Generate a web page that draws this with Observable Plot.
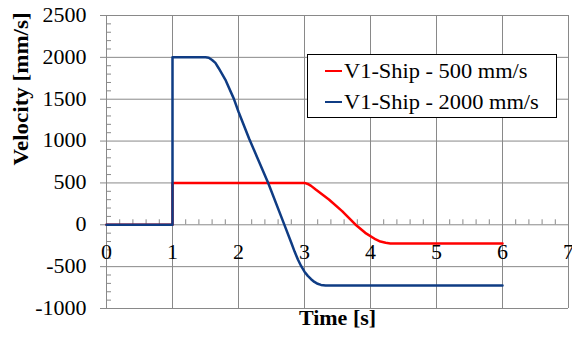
<!DOCTYPE html>
<html><head><meta charset="utf-8">
<script src="https://cdn.jsdelivr.net/npm/d3@7"></script>
<script src="https://cdn.jsdelivr.net/npm/@observablehq/plot@0.6"></script>
<style>
body{margin:0;background:#fff;}
#wrap{position:relative;width:572px;height:340px;font-family:'Liberation Serif', serif;}
#legend{position:absolute;left:307px;top:54px;width:250px;height:64px;border:1px solid #000;background:#fff;box-sizing:border-box;font-family:'Liberation Serif', serif;font-size:20px;color:#000;}
.row{position:absolute;left:17px;height:24px;display:flex;align-items:center;white-space:nowrap;}
.sw{width:17px;height:2.5px;margin-right:2px;flex:none;}
.tx{display:inline-block;transform:scaleX(1.12);transform-origin:0 50%;font-family:'Liberation Serif', serif;}
</style></head>
<body><div id="wrap"></div>
<script>
// Series: V1-Ship - 500 mm/s
const timeA = [0, 1, 1, 3, 3.05, 3.1, 3.17, 3.37, 3.57, 3.77, 3.92, 4.08, 4.15, 4.23, 4.3, 4.4, 6];
const velA  = [0, 0, 500, 500, 488, 465, 421, 302, 163, 4, -96, -175, -200, -215, -223, -225, -225];
// Series: V1-Ship - 2000 mm/s
const timeB = [0, 1, 1, 1.5, 1.55, 1.6, 1.65, 1.7, 1.8, 1.93, 2.0, 2.16, 2.3, 2.45, 2.7, 2.8, 2.85, 2.9, 2.95, 3.0, 3.05, 3.1, 3.15, 3.2, 3.25, 3.32, 6];
const velB  = [0, 0, 2000, 2000, 1995, 1968, 1934, 1870, 1735, 1504, 1350, 1030, 774, 500, -10, -215, -320, -415, -495, -560, -610, -650, -683, -705, -718, -725, -725];
const seriesNames = ["V1-Ship - 500 mm/s", "V1-Ship - 2000 mm/s"];
const seriesColors = ["#ff0000", "#0f3c84"];
const xTicks = [0, 1, 2, 3, 4, 5, 6, 7];
const yTicks = [-1000, -500, 0, 500, 1000, 1500, 2000, 2500];

const dataA = timeA.map((t, i) => ({t, v: velA[i]}));
const dataB = timeB.map((t, i) => ({t, v: velB[i]}));
const xMinor = d3.range(0, 7.0001, 0.2).filter(d => Math.abs(d - Math.round(d)) > 1e-6);
const yMinor = d3.range(-1000, 2501, 100).filter(d => d % 500 !== 0);
const grid = "#898989";
const FONT = "Liberation Serif, serif";

const chart = Plot.plot({
  width: 572, height: 340,
  marginLeft: 106, marginRight: 4, marginTop: 15, marginBottom: 32,
  x: {domain: [0, 7], axis: null},
  y: {domain: [-1000, 2500], axis: null},
  style: {fontFamily: FONT, fontSize: "20px", background: "#fff", color: "#000"},
  marks: [
    Plot.ruleX(xTicks.slice(1), {stroke: grid, strokeWidth: 1}),
    Plot.ruleY(yTicks, {x1: 0, x2: 7, insetLeft: -6, stroke: grid, strokeWidth: 1}),
    Plot.ruleX([0], {stroke: grid, strokeWidth: 1}),
    Plot.ruleY(yMinor, {x1: 0, x2: 0, insetRight: -5, stroke: grid, strokeWidth: 1}),
    Plot.ruleX(xMinor, {y1: 0, y2: 0, insetTop: -5, stroke: grid, strokeWidth: 1}),
    Plot.line(dataA, {x: "t", y: "v", stroke: seriesColors[0], strokeWidth: 2.5}),
    Plot.line(dataB, {x: "t", y: "v", stroke: seriesColors[1], strokeWidth: 2.5}),
    Plot.text(yTicks, {x: 0, y: d => d, text: d => String(d), textAnchor: "end", dx: -20, fontSize: 20, fontFamily: FONT, className: "stretch"}),
    Plot.text(xTicks, {x: d => d, y: 0, text: d => String(d), dy: 27.5, fontSize: 20, fontFamily: FONT, className: "stretch"}),
    Plot.text(["Velocity [mm/s]"], {frameAnchor: "left", dx: -85, dy: 3.5, rotate: -90, fontWeight: "bold", fontSize: 20, fontFamily: FONT, className: "stretch2"}),
    Plot.text(["Time [s]"], {frameAnchor: "bottom", dy: 16, fontWeight: "bold", fontSize: 20, fontFamily: FONT, className: "stretch"})
  ]
});
const wrap = document.getElementById("wrap");
wrap.appendChild(chart);

// widen glyphs slightly to match the reference's text proportions
function stretch(sel, k) {
  chart.querySelectorAll(sel + " text").forEach(t => {
    const len = t.getComputedTextLength();
    if (len > 0) {
      t.setAttribute("textLength", (len * k).toFixed(2));
      t.setAttribute("lengthAdjust", "spacingAndGlyphs");
    }
  });
}
stretch(".stretch", 1.1);
stretch(".stretch2", 1.15);

const legend = document.createElement("div");
legend.id = "legend";
seriesNames.forEach((name, i) => {
  const row = document.createElement("div");
  row.className = "row";
  row.style.top = (i === 0 ? 4 : 35) + "px";
  const sw = document.createElement("span");
  sw.className = "sw";
  sw.style.background = seriesColors[i];
  const tx = document.createElement("span");
  tx.className = "tx";
  tx.textContent = name;
  row.appendChild(sw); row.appendChild(tx);
  legend.appendChild(row);
});
wrap.appendChild(legend);
</script>
</body></html>
